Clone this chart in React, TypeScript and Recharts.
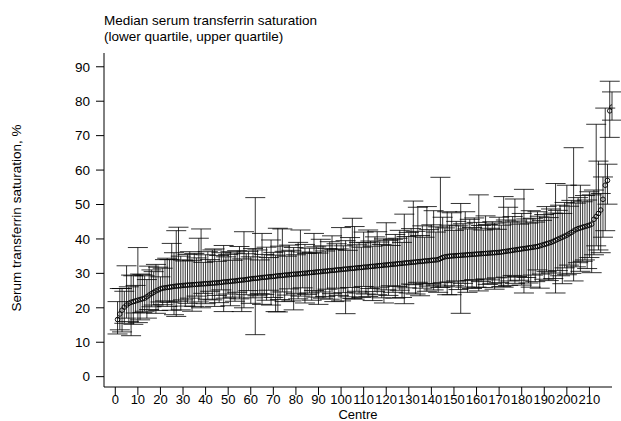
import React from "react";
import { ComposedChart, Line, XAxis, YAxis, ErrorBar, Label } from "recharts";

const medians = [
  16.6, 18.2, 19.3, 20.2, 20.8, 21.3, 21.6, 21.8, 22.0, 22.2,
  22.4, 22.6, 22.8, 23.2, 23.7, 24.1, 24.5, 24.9, 25.2, 25.5,
  25.7, 25.8, 25.9, 26.0, 26.1, 26.2, 26.3, 26.35, 26.4, 26.5,
  26.55, 26.6, 26.65, 26.7, 26.75, 26.8, 26.85, 26.9, 26.95, 27.0,
  27.05, 27.1, 27.15, 27.2, 27.25, 27.3, 27.4, 27.5, 27.55, 27.6,
  27.7, 27.75, 27.8, 27.9, 28.0, 28.05, 28.1, 28.2, 28.3, 28.4,
  28.5, 28.55, 28.6, 28.7, 28.8, 28.85, 28.9, 29.0, 29.05, 29.1,
  29.2, 29.3, 29.35, 29.4, 29.5, 29.55, 29.6, 29.7, 29.75, 29.8,
  29.85, 29.9, 30.0, 30.05, 30.1, 30.2, 30.25, 30.3, 30.4, 30.45,
  30.5, 30.6, 30.65, 30.7, 30.8, 30.85, 30.9, 31.0, 31.05, 31.1,
  31.2, 31.25, 31.3, 31.4, 31.45, 31.5, 31.6, 31.65, 31.7, 31.8,
  31.85, 31.9, 32.0, 32.05, 32.1, 32.2, 32.25, 32.3, 32.4, 32.45,
  32.5, 32.6, 32.65, 32.7, 32.8, 32.85, 32.9, 33.0, 33.05, 33.1,
  33.2, 33.25, 33.3, 33.4, 33.45, 33.5, 33.6, 33.65, 33.7, 33.8,
  33.85, 33.9, 34.0, 34.3, 34.6, 34.8, 34.9, 35.0, 35.05, 35.1,
  35.15, 35.2, 35.25, 35.3, 35.35, 35.4, 35.45, 35.5, 35.55, 35.6,
  35.65, 35.7, 35.75, 35.8, 35.85, 35.9, 35.95, 36.0, 36.05, 36.1,
  36.2, 36.3, 36.4, 36.5, 36.6, 36.7, 36.8, 36.9, 37.0, 37.1,
  37.2, 37.3, 37.4, 37.5, 37.6, 37.7, 37.8, 38.0, 38.2, 38.4,
  38.6, 38.8, 39.0, 39.3, 39.6, 39.9, 40.2, 40.5, 40.8, 41.1,
  41.5, 41.9, 42.3, 42.7, 43.0, 43.2, 43.4, 43.6, 43.8, 44.0,
  44.3, 45.7, 46.5, 47.4, 48.4, 51.5, 55.6, 57.0, 77.2, 78.3,
];

const lowerQuartiles = [
  12.4, 13.6, 13.0, 15.5, 17.0, 16.0, 11.9, 15.2, 18.5, 15.7,
  16.5, 18.6, 19.0, 17.0, 19.5, 20.3, 20.8, 18.4, 19.2, 21.7,
  20.9, 22.0, 20.4, 21.6, 19.3, 18.0, 17.5, 21.9, 19.4, 22.3,
  20.5, 21.3, 22.8, 19.0, 20.4, 23.4, 21.7, 20.0, 24.2, 21.2,
  22.5, 24.8, 22.3, 20.4, 23.6, 21.5, 25.2, 18.9, 22.8, 24.0,
  20.6, 23.1, 21.9, 24.5, 22.6, 18.9, 20.0, 23.8, 25.0, 21.3,
  22.9, 12.2, 23.5, 24.1, 21.0, 23.9, 22.2, 25.1, 20.8, 23.0,
  18.9, 18.8, 22.4, 24.6, 21.8, 23.7, 25.5, 22.0, 19.4, 24.2,
  22.6, 23.4, 25.8, 21.4, 23.9, 24.3, 22.2, 25.0, 23.1, 21.0,
  24.6, 22.8, 23.3, 25.4, 22.5, 24.1, 21.8, 25.7, 23.6, 22.0,
  24.4, 18.3, 23.2, 25.9, 22.7, 22.5, 24.8, 24.3, 23.0, 26.2,
  24.0, 23.3, 25.6, 22.1, 24.7, 23.8, 26.0, 22.9, 21.4, 25.2,
  23.6, 26.4, 24.5, 22.8, 26.2, 25.1, 23.0, 21.2, 25.8, 24.3,
  26.9, 26.7, 24.0, 27.4, 23.5, 25.7, 27.0, 24.8, 26.3, 27.0,
  25.2, 26.6, 24.5, 25.9, 27.3, 26.1, 23.8, 27.5, 23.8, 26.4,
  27.8, 25.3, 18.4, 27.1, 26.0, 24.5, 27.9, 25.6, 28.2, 26.0,
  24.9, 27.6, 25.9, 28.4, 26.8, 28.1, 27.0, 25.4, 28.7, 27.3,
  26.2, 26.0, 28.9, 26.5, 27.8, 29.4, 27.1, 29.1, 28.0, 26.6,
  24.3, 28.8, 27.2, 26.0, 29.5, 27.6, 31.0, 25.7, 29.8, 28.3,
  30.5, 27.9, 30.1, 28.5, 24.3, 30.8, 29.3, 27.0, 31.6, 29.6,
  32.4, 30.0, 27.8, 31.9, 33.1, 30.6, 33.5, 33.9, 31.4, 34.6,
  30.2, 35.4, 38.0, 36.8, 36.0, 40.5, 42.4, 50.1, 69.5, 74.5,
];

const upperQuartiles = [
  21.8, 25.6, 25.6, 24.8, 32.2, 26.1, 29.5, 29.3, 26.5, 37.5,
  29.8, 29.6, 29.3, 28.2, 32.1, 31.0, 30.5, 32.6, 31.8, 29.0,
  31.5, 34.0, 34.4, 34.0, 38.7, 36.0, 42.4, 43.4, 35.0, 33.9,
  33.6, 35.5, 36.3, 33.8, 35.8, 34.5, 40.2, 42.9, 33.2, 35.4,
  36.3, 34.0, 36.8, 37.1, 33.5, 35.2, 36.0, 38.1, 34.8, 35.5,
  36.3, 33.8, 35.9, 36.6, 37.8, 34.2, 42.1, 35.7, 36.4, 34.8,
  37.2, 52.0, 36.8, 33.9, 41.6, 35.5, 37.6, 34.6, 39.7, 36.1,
  35.3, 43.1, 37.9, 42.9, 36.4, 35.0, 38.2, 36.7, 37.5, 35.4,
  39.0, 42.6, 36.2, 38.4, 35.8, 37.3, 36.0, 41.6, 37.7, 35.9,
  39.9, 38.0, 36.5, 37.2, 39.2, 40.9, 36.9, 38.6, 37.1, 43.3,
  38.0, 39.5, 36.7, 40.4, 46.0, 43.6, 38.3, 39.0, 37.6, 42.0,
  38.9, 42.6, 39.4, 37.9, 40.6, 42.1, 39.1, 38.4, 40.0, 44.7,
  39.6, 38.1, 39.9, 41.3, 40.2, 42.5, 39.0, 47.2, 40.7, 41.9,
  43.0, 51.0, 42.2, 49.2, 41.0, 43.8, 40.5, 49.4, 42.7, 44.1,
  48.2, 42.0, 43.5, 57.9, 46.3, 43.2, 47.9, 44.0, 47.6, 42.5,
  45.1, 43.8, 50.3, 44.4, 47.9, 42.9, 45.7, 43.3, 46.1, 44.8,
  52.8, 43.9, 42.6, 46.7, 44.2, 43.1, 45.0, 44.6, 42.8, 46.3,
  44.0, 52.3, 45.5, 49.2, 44.9, 46.5, 51.6, 45.2, 44.3, 47.4,
  54.4, 45.8, 44.6, 48.2, 46.0, 44.9, 47.9, 46.6, 45.4, 47.1,
  49.4, 46.2, 48.7, 47.5, 56.1, 48.3, 49.8, 47.4, 50.6, 55.6,
  49.5, 51.2, 66.5, 50.4, 52.0, 55.6, 50.8, 52.6, 51.3, 53.7,
  52.8, 54.2, 73.3, 62.6, 53.2, 58.0, 78.0, 61.7, 85.8, 82.7,
];

const centres = medians.map((_, i) => i + 1);
const xTicks = [0, 10, 20, 30, 40, 50, 60, 70, 80, 90, 100, 110, 120, 130, 140, 150, 160, 170, 180, 190, 200, 210];
const yTicks = [0, 10, 20, 30, 40, 50, 60, 70, 80, 90];

const data = centres.map((c, i) => ({
  centre: c,
  median: medians[i],
  err: [medians[i] - lowerQuartiles[i], upperQuartiles[i] - medians[i]],
}));

const FONT = '"Liberation Sans", Arial, Helvetica, sans-serif';
const FS = 13.5;
const tickStyle = { fontSize: FS, fill: "#000", fontFamily: FONT };

export default function App() {
  return (
    <div style={{ position: "absolute", left: 0, top: 0, width: 621, height: 421, background: "#fff" }}>
      <div
        style={{
          position: "absolute",
          left: 104,
          top: 13,
          fontFamily: FONT,
          fontSize: FS,
          lineHeight: "16px",
          color: "#000",
          whiteSpace: "nowrap",
        }}
      >
        Median serum transferrin saturation
        <br />
        (lower quartile, upper quartile)
      </div>
      <ComposedChart width={621} height={421} data={data} margin={{ top: 53, right: 9, bottom: 0, left: 0 }}>
        <XAxis
          dataKey="centre"
          type="number"
          domain={[-5, 220]}
          ticks={xTicks}
          interval={0}
          tickSize={8}
          tickMargin={0}
          height={34}
          axisLine={{ stroke: "#000" }}
          tickLine={{ stroke: "#000" }}
          tick={{ fontSize: 13, fill: "#000", fontFamily: FONT }}
          allowDataOverflow
        >
          <Label
            value="Centre"
            position="insideBottom"
            offset={2}
            style={{ fontSize: 13, fill: "#000", fontFamily: FONT }}
          />
        </XAxis>
        <YAxis
          type="number"
          domain={[-3, 94]}
          ticks={yTicks}
          interval={0}
          width={104}
          tickSize={8}
          tickMargin={6}
          axisLine={{ stroke: "#000" }}
          tickLine={{ stroke: "#000" }}
          tick={tickStyle}
          allowDataOverflow
        >
          <Label
            content={() => (
              <text
                x={16}
                y={218}
                transform="rotate(-90 16 218)"
                textAnchor="middle"
                dominantBaseline="central"
                style={{ fontSize: FS, fill: "#000", fontFamily: FONT }}
              >
                Serum transferrin saturation, %
              </text>
            )}
          />
        </YAxis>
        <Line
          dataKey="median"
          stroke="none"
          isAnimationActive={false}
          dot={{ r: 2.3, stroke: "#000", strokeWidth: 0.9, fill: "none" }}
          activeDot={false}
        >
          <ErrorBar dataKey="err" direction="y" width={10} stroke="#000" strokeWidth={0.8} isAnimationActive={false} />
        </Line>
      </ComposedChart>
    </div>
  );
}
